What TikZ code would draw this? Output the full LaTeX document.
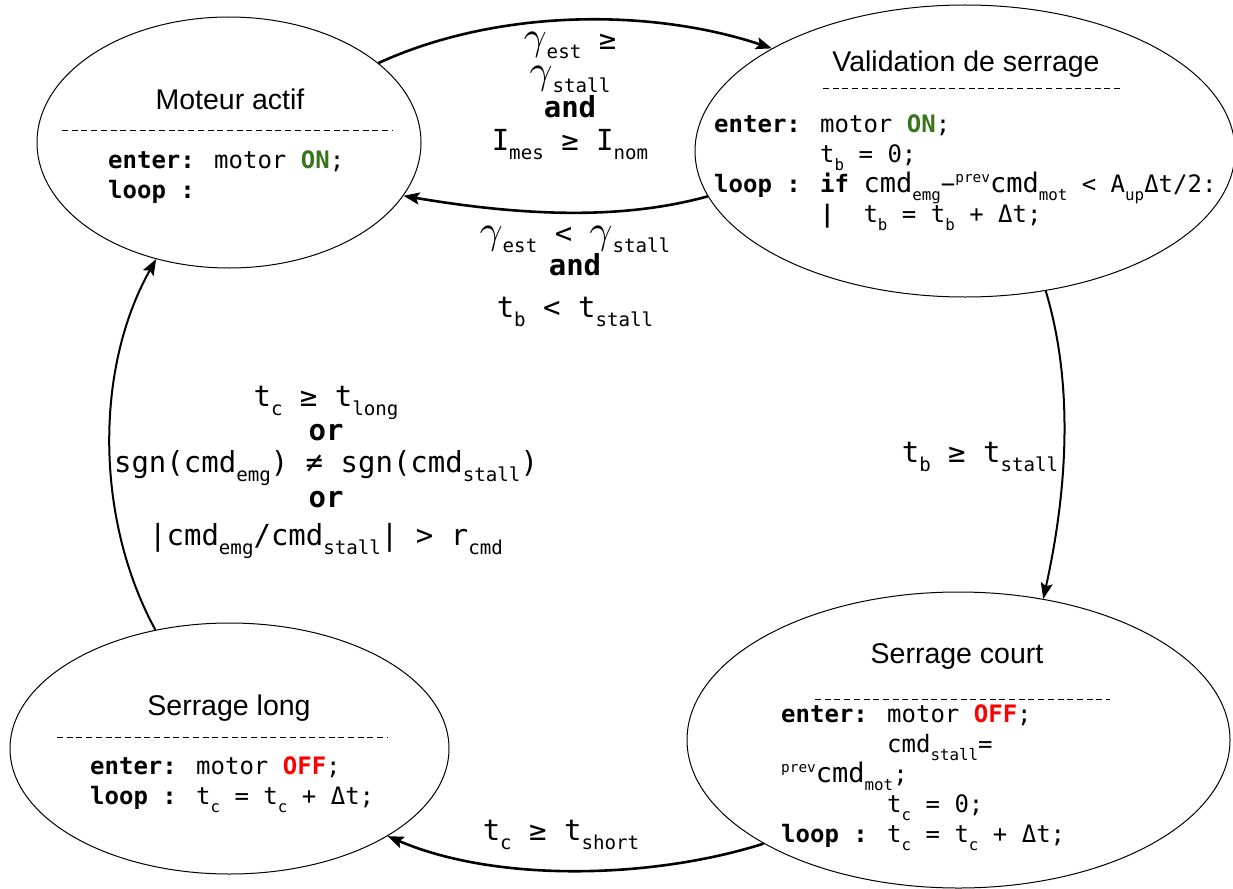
\documentclass[tikz,border=0pt]{standalone}
\usepackage{fontspec}
\setmainfont{Liberation Sans}
\newfontfamily\codefont{DejaVu Sans Mono}
\usepackage{graphicx}
\usetikzlibrary{shapes.geometric,arrows.meta}

\definecolor{ongreen}{HTML}{38761D}
\definecolor{offred}{HTML}{FF0000}

% small indices in the code font
\newcommand{\lo}[1]{\raisebox{-0.33em}{\scalebox{0.66}{#1}}}
\newcommand{\hi}[1]{\raisebox{0.42em}{\scalebox{0.6}{#1}}}
\newcommand{\bigcmd}{{\fontsize{27}{27}\selectfont cmd}}
\newcommand{\gam}{{\normalsize\scalebox{4}{$\gamma$}}}
\newcommand{\motoron}{\textbf{\color{ongreen}ON}}
\newcommand{\motoroff}{\textbf{\color{offred}OFF}}

\begin{document}
\begin{tikzpicture}[x=1pt, y=-1pt,
  state/.style={draw, ellipse, line width=1pt, inner sep=0pt},
  heading/.style={font=\fontsize{28.5}{30}\selectfont, anchor=base, inner sep=0pt},
  body/.style={font={\codefont\fontsize{24}{30}\selectfont\lineskiplimit=-50pt}, align=left, anchor=north west, inner sep=0pt},
  cond/.style={font={\codefont\fontsize{29}{30}\selectfont\lineskiplimit=-50pt}, align=center, inner sep=0pt},
  divider/.style={line width=1pt, dash pattern=on 6pt off 3.7pt},
  trans/.style={line width=2.6pt, -{Stealth[length=16pt, width=12pt, inset=3pt]}}]
\useasboundingbox (0,0) rectangle (1233,888);

% states
\node[state, minimum width=384pt, minimum height=251pt] (actif) at (229,142.5){};
\node[state, minimum width=540pt, minimum height=292pt] (valid) at (965,151){};
\node[state, minimum width=543pt, minimum height=296pt] (court) at (958.5,740){};
\node[state, minimum width=439pt, minimum height=251pt] (slong) at (229.5,748.5){};

\node[heading] (actif-t) at (230,110){Moteur actif};
\draw[divider] (62,130) -- (393,130);
\node[body] (actif-b) at (108,148){\rule{0pt}{20pt}\textbf{enter:} motor \motoron;\\\textbf{loop :}};

\node[heading] (valid-t) at (966,72){Validation de serrage};
\draw[divider] (823,89) -- (1120,89);
\node[body] (valid-b) at (714,112){\rule{0pt}{20pt}\textbf{enter:} motor \motoron;\\
  \hphantom{enter: }t\lo{b} = 0;\\
  \textbf{loop : if} \bigcmd\lo{emg}−\hi{prev}\bigcmd\lo{mot} < A\lo{up}Δt/2:\\
  \hphantom{enter: }\textbf{|}\ \ t\lo{b} = t\lo{b} + Δt;};

\node[heading] (court-t) at (957,663){Serrage court};
\draw[divider] (815,699) -- (1110,699);
\node[body] (court-b) at (781,702){\rule{0pt}{20pt}\textbf{enter:} motor \motoroff;\\
  \hphantom{enter: }cmd\lo{stall}=\\
  \hi{prev}\bigcmd\lo{mot};\\
  \hphantom{enter: }t\lo{c} = 0;\\
  \textbf{loop :} t\lo{c} = t\lo{c} + Δt;};

\node[heading] (slong-t) at (229,715){Serrage long};
\draw[divider] (57,737) -- (387,737);
\node[body] (slong-b) at (90,754){\rule{0pt}{20pt}\textbf{enter:} motor \motoroff;\\\textbf{loop :} t\lo{c} = t\lo{c} + Δt;};

% transitions
\draw[trans] (actif.28) .. controls +(120,-55) and +(-120,-40) .. (valid.152);
\draw[trans] (valid.190) .. controls +(-80,22) and +(130,22) .. (actif.-17);
\draw[trans, line width=2pt] (valid.-60) .. controls +(30,100) and +(22,-100) .. (court.59);
\draw[trans] (court.208) .. controls +(-110,35) and +(110,47) .. (slong.-29);
\draw[trans, line width=2pt] (slong.122) .. controls +(-60,-110) and +(-62,110) .. (actif.238);

\node[cond, anchor=north] (c-av) at (570,25){\rule{0pt}{24pt}\gam\lo{est} ≥\\[4pt] \gam\lo{stall}\\[4pt] \textbf{and}\\[3pt] I\lo{mes} ≥ I\lo{nom}};
\node[cond, anchor=north] (c-va) at (575,219){\rule{0pt}{24pt}\gam\lo{est} < \gam\lo{stall}\\[2pt] \textbf{and}\\[12pt] t\lo{b} < t\lo{stall}};
\node[cond, anchor=base] (c-vc) at (980,462){t\lo{b} ≥ t\lo{stall}};
\node[cond, anchor=base] (c-cl) at (561,840){t\lo{c} ≥ t\lo{short}};
\node[cond, anchor=north] (c-la) at (326,382){\rule{0pt}{24pt}t\lo{c} ≥ t\lo{long}\\[4pt] \textbf{or}\\[2pt] sgn(cmd\lo{emg}) ≠ sgn(cmd\lo{stall})\\[5pt] \textbf{or}\\[8pt] |cmd\lo{emg}/cmd\lo{stall}| > r\lo{cmd}};

\end{tikzpicture}
\end{document}
